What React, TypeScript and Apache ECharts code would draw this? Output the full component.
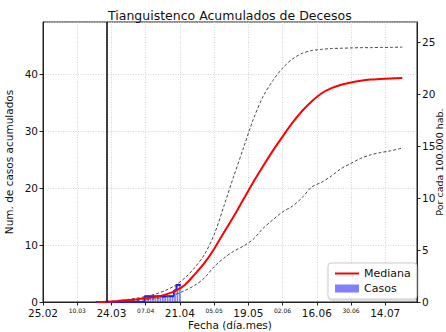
import React, { useEffect, useRef } from 'react';
import * as echarts from 'echarts';

const xTickLabels = ['25.02', '10.03', '24.03', '07.04', '21.04', '05.05', '19.05', '02.06', '16.06', '30.06', '14.07'];

const curveDays = [22, 26, 30, 34, 38, 42, 46, 50, 54, 58, 62, 66, 70, 74, 78, 82, 86, 90, 94, 98, 102, 106, 110, 114, 118, 122, 126, 130, 134, 138, 142, 147];
const mediana = [0, 0.05, 0.15, 0.3, 0.45, 0.65, 0.9, 1.3, 1.9, 3.0, 4.8, 6.8, 9.3, 12.2, 15.0, 18.0, 21.0, 23.8, 26.5, 29.0, 31.4, 33.5, 35.2, 36.6, 37.5, 38.1, 38.5, 38.8, 39.0, 39.1, 39.2, 39.3];
const superior = [0, 0.08, 0.2, 0.4, 0.65, 0.95, 1.4, 2.0, 2.9, 4.2, 6.0, 8.3, 11.8, 16.8, 22.0, 27.0, 32.0, 36.0, 38.8, 41.0, 42.6, 43.6, 44.1, 44.3, 44.45, 44.5, 44.55, 44.6, 44.6, 44.65, 44.65, 44.7];
const inferior = [0, 0.03, 0.08, 0.15, 0.25, 0.4, 0.6, 0.85, 1.3, 2.0, 2.9, 4.2, 6.2, 7.7, 8.9, 9.8, 11.0, 12.9, 14.4, 15.8, 16.8, 18.3, 20.2, 21.0, 22.1, 23.4, 24.3, 25.2, 25.8, 26.2, 26.5, 27.0];

const casosDays = [22, 23, 24, 25, 26, 27, 28, 29, 30, 31, 32, 33, 34, 35, 36, 37, 38, 39, 40, 41, 42, 43, 44, 45, 46, 47, 48, 49, 50, 51, 52, 53, 54, 55, 56];
const casos = [0, 0, 0, 0, 0, 0, 0, 0, 0, 0, 0, 0, 0, 0, 0, 0, 0, 0, 0, 0, 1, 1, 1, 1, 1, 1, 1, 1, 1, 1, 1, 1, 2, 3, 3];

const cutoffDay = 26;
const xMax = 153;
const yLeftMax = 49.1;
const yRightMax = 26.9;

const FONT = 'DejaVu Sans';

export default function App() {
  const ref = useRef<HTMLDivElement>(null);
  useEffect(() => {
    if (!ref.current) return;
    const chart = echarts.init(ref.current, undefined, { renderer: 'svg' });
    const pairs = (xs: number[], ys: number[]) => xs.map((x, i) => [x, ys[i]]);
    const dashed = { color: '#4a4a4a', width: 1, type: [3, 2] as any };
    chart.setOption({
      animation: false,
      backgroundColor: '#fff',
      textStyle: { fontFamily: FONT },
      title: {
        text: 'Tianguistenco Acumulados de Decesos',
        left: 103,
        top: 4,
        textStyle: { fontFamily: FONT, fontSize: 12.5, fontWeight: 'normal', color: '#111' },
      },
      legend: {
        left: 328,
        top: 263,
        orient: 'vertical',
        data: [
          { name: 'Mediana', itemStyle: { opacity: 0 } },
          { name: 'Casos', icon: 'rect' },
        ],
        itemWidth: 24,
        itemHeight: 8,
        itemGap: 4,
        padding: [5, 6, 5, 6],
        backgroundColor: '#fff',
        borderColor: '#ccc',
        borderWidth: 1,
        borderRadius: 3,
        shadowColor: 'rgba(0,0,0,0.25)',
        shadowBlur: 2,
        shadowOffsetX: 1,
        shadowOffsetY: 1,
        textStyle: { fontFamily: FONT, fontSize: 11, color: '#111' },
      },
      grid: {
        left: 43,
        right: 29,
        top: 22,
        bottom: 30,
        show: true,
        borderColor: '#222',
        borderWidth: 1,
        containLabel: false,
        outerBoundsMode: 'none',
      },
      xAxis: {
        type: 'value',
        min: 0,
        max: xMax,
        interval: 14,
        name: 'Fecha (día.mes)',
        nameLocation: 'middle',
        nameGap: 17,
        nameMoveOverlap: false,
        nameTextStyle: { fontFamily: FONT, fontSize: 10.5, color: '#111' },
        axisLine: { lineStyle: { color: '#222' } },
        axisTick: { length: 3.5, lineStyle: { color: '#222' } },
        axisLabel: {
          margin: 5,
          showMaxLabel: false,
          verticalAlign: 'top',
          formatter: (v: number) => {
            if (Math.abs(v % 14) > 1e-6) return '';
            const i = Math.round(v / 14);
            const lab = xTickLabels[i];
            if (lab === undefined) return '';
            return i % 2 === 0 ? `{big|${lab}}` : `{small|${lab}}`;
          },
          rich: {
            big: { fontFamily: FONT, fontSize: 10.5, color: '#111', verticalAlign: 'top' },
            small: { fontFamily: FONT, fontSize: 6, color: '#111', verticalAlign: 'top' },
          },
        },
        splitLine: { show: true, lineStyle: { color: '#c8c8c8', type: [1, 1.5], width: 0.8 } },
      },
      yAxis: [
        {
          type: 'value',
          min: 0,
          max: yLeftMax,
          interval: 10,
          name: 'Num. de casos acumulados',
          nameLocation: 'middle',
          nameGap: 29,
          nameMoveOverlap: false,
          nameTextStyle: { fontFamily: FONT, fontSize: 10.5, color: '#111' },
          axisLine: { show: true, lineStyle: { color: '#222' } },
          axisTick: { show: true, length: 3.5, lineStyle: { color: '#222' } },
          axisLabel: {
            margin: 5,
            showMaxLabel: false,
            fontFamily: FONT,
            fontSize: 10.5,
            color: '#111',
            formatter: (v: number) => (Math.abs(v % 10) > 1e-6 ? '' : String(v)),
          },
          splitLine: { show: true, lineStyle: { color: '#c8c8c8', type: [1, 1.5], width: 0.8 } },
        },
        {
          type: 'value',
          position: 'right',
          min: 0,
          max: yRightMax,
          interval: 5,
          name: 'Por cada 100.000 hab.',
          nameLocation: 'middle',
          nameRotate: 90,
          nameGap: 17,
          nameMoveOverlap: false,
          nameTextStyle: { fontFamily: FONT, fontSize: 9.5, color: '#111' },
          axisLine: { show: true, lineStyle: { color: '#222' } },
          axisTick: { show: true, length: 3.5, lineStyle: { color: '#222' } },
          axisLabel: {
            margin: 5,
            showMaxLabel: false,
            fontFamily: FONT,
            fontSize: 10.5,
            color: '#111',
            formatter: (v: number) => (Math.abs(v % 5) > 1e-6 ? '' : String(v)),
          },
          splitLine: { show: false },
        },
      ],
      series: [
        {
          name: 'Casos',
          type: 'bar',
          data: pairs(casosDays, casos),
          barWidth: 1.7,
          itemStyle: { color: 'rgba(0,0,255,0.5)' },
          z: 1,
        },
        {
          name: 'casosTop',
          type: 'line',
          data: pairs(casosDays, casos),
          step: 'middle',
          symbol: 'rect',
          symbolSize: 2,
          showSymbol: true,
          itemStyle: { color: '#1a1aff' },
          lineStyle: { color: '#1a1aff', width: 1.6 },
          z: 2,
        },
        {
          name: 'Superior',
          type: 'line',
          data: pairs(curveDays, superior),
          smooth: 0.3,
          symbol: 'none',
          lineStyle: dashed,
          z: 3,
        },
        {
          name: 'Inferior',
          type: 'line',
          data: pairs(curveDays, inferior),
          smooth: 0.3,
          symbol: 'none',
          lineStyle: dashed,
          z: 3,
        },
        {
          name: 'Mediana',
          type: 'line',
          data: pairs(curveDays, mediana),
          smooth: 0.3,
          symbol: 'none',
          itemStyle: { color: '#ff0000' },
          lineStyle: { color: '#ff0000', width: 2 },
          z: 4,
          markLine: {
            silent: true,
            symbol: ['none', 'none'],
            label: { show: false },
            lineStyle: { color: '#000', width: 1.5, type: 'solid' },
            data: [{ xAxis: cutoffDay }],
          },
        },
      ],
    });
    return () => chart.dispose();
  }, []);
  return <div ref={ref} style={{ width: 446, height: 332, position: 'absolute', left: 0, top: 0 }} />;
}
